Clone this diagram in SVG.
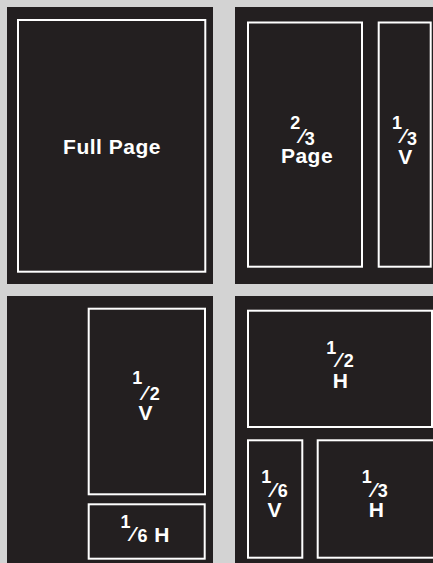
<svg xmlns="http://www.w3.org/2000/svg" width="433" height="563" viewBox="0 0 433 563">
<style>
.bg{fill:#d3d3d3}
.panel{fill:#231f20}
.box{fill:none;stroke:#ffffff;stroke-width:2}
text{font-family:"Liberation Sans",Arial,sans-serif;font-weight:bold;fill:#ffffff;text-anchor:middle;font-size:18px}
.main{font-size:21px;letter-spacing:0.5px}
.sl{font-size:20px}
</style>
<rect class="bg" x="0" y="0" width="433" height="563"/>
<g id="panel-full-page">
<rect class="panel" x="7" y="7" width="206" height="277"/>
<rect class="box" x="18" y="20" width="187.3" height="251.7"/>
<text class="main" x="112" y="154">Full Page</text>
</g>
<g id="panel-two-thirds">
<rect class="panel" x="235" y="7" width="200" height="277"/>
<g id="two-thirds-page">
<rect class="box" x="248" y="22.5" width="114" height="244.2"/>
<text><tspan x="295.3" y="129.3">2</tspan><tspan class="sl" x="302" y="142.5">⁄</tspan><tspan x="309.7" y="144.7">3</tspan><tspan class="main" x="307" y="163.3">Page</tspan></text>
</g>
<g id="one-third-v">
<rect class="box" x="378.7" y="22.5" width="52" height="244.2"/>
<text><tspan x="397" y="129.3">1</tspan><tspan class="sl" x="403.5" y="142.5">⁄</tspan><tspan x="412" y="144.7">3</tspan><tspan class="main" x="405.5" y="164">V</tspan></text>
</g>
</g>
<g id="panel-half-v">
<rect class="panel" x="7" y="296" width="206" height="269"/>
<g id="half-v">
<rect class="box" x="88.7" y="308.7" width="116.3" height="185.6"/>
<text><tspan x="137.3" y="384.3">1</tspan><tspan class="sl" x="145" y="399.5">⁄</tspan><tspan x="154.7" y="399.7">2</tspan><tspan class="main" x="145.8" y="420">V</tspan></text>
</g>
<g id="sixth-h-small">
<rect class="box" x="88.7" y="504.3" width="116" height="54.4"/>
<text><tspan x="125.5" y="527.7">1</tspan><tspan class="sl" x="133" y="541">⁄</tspan><tspan x="142.5" y="541.5">6</tspan><tspan class="main" x="162" y="541.7">H</tspan></text>
</g>
</g>
<g id="panel-mixed">
<rect class="panel" x="235" y="296" width="200" height="269"/>
<g id="half-h">
<rect class="box" x="248" y="310.7" width="184" height="116.3"/>
<text><tspan x="331.2" y="354">1</tspan><tspan class="sl" x="338.8" y="366.5">⁄</tspan><tspan x="348.7" y="366.7">2</tspan><tspan class="main" x="340.7" y="387.5">H</tspan></text>
</g>
<g id="sixth-v">
<rect class="box" x="248" y="440.3" width="54.3" height="117.4"/>
<text><tspan x="266.3" y="483.3">1</tspan><tspan class="sl" x="273.5" y="496.5">⁄</tspan><tspan x="282.8" y="497.3">6</tspan><tspan class="main" x="274.7" y="516.5">V</tspan></text>
</g>
<g id="third-h">
<rect class="box" x="317.7" y="440.3" width="117" height="117.4"/>
<text><tspan x="366.7" y="483.3">1</tspan><tspan class="sl" x="374" y="496.5">⁄</tspan><tspan x="382.8" y="497.3">3</tspan><tspan class="main" x="376.7" y="516.5">H</tspan></text>
</g>
</g>
</svg>
